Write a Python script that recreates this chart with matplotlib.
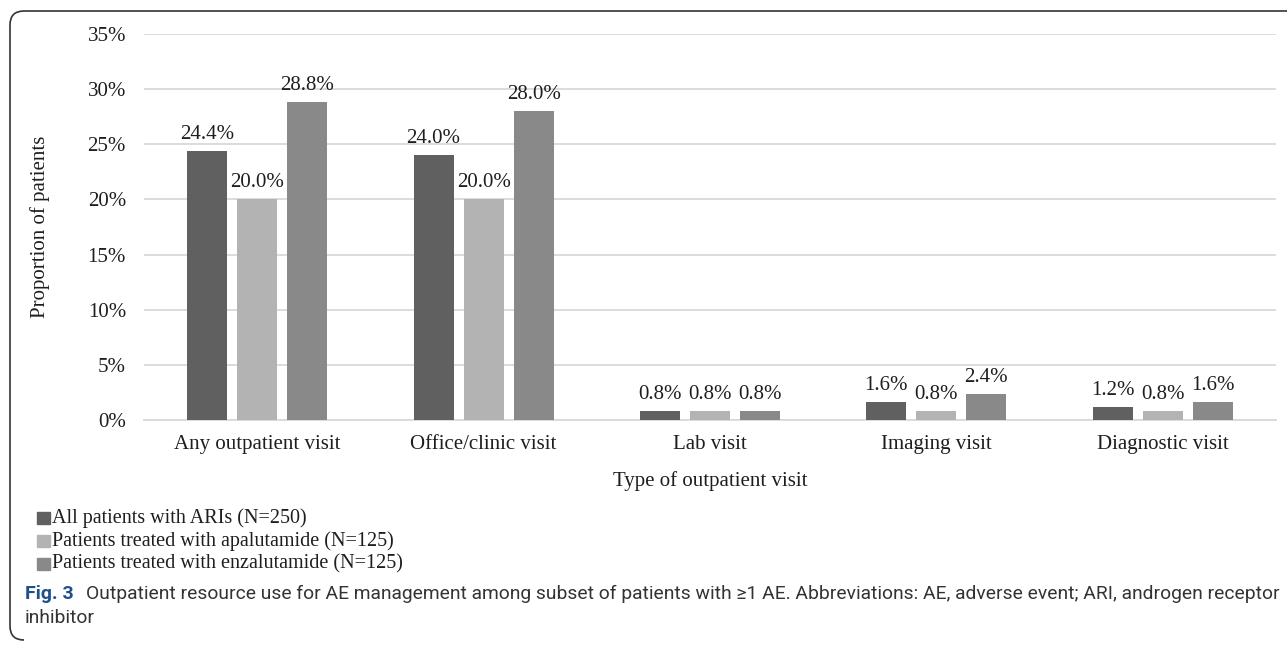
import numpy as np
import matplotlib
matplotlib.use("Agg")
import matplotlib.pyplot as plt
from matplotlib.path import Path
from matplotlib.patches import PathPatch, Rectangle

categories = ["Any outpatient visit", "Office/clinic visit", "Lab visit",
              "Imaging visit", "Diagnostic visit"]
all_ari = [24.4, 24.0, 0.8, 1.6, 1.2]
apalutamide = [20.0, 20.0, 0.8, 0.8, 0.8]
enzalutamide = [28.8, 28.0, 0.8, 2.4, 1.6]
series_names = ["All patients with ARIs (N=250)",
                "Patients treated with apalutamide (N=125)",
                "Patients treated with enzalutamide (N=125)"]
yticks = [0, 5, 10, 15, 20, 25, 30, 35]

colors = ["#606060", "#b3b3b3", "#898989"]
serif = "Liberation Serif"
fs = 15
txt = "#1e1e1e"

W, H = 1287, 651
fig = plt.figure(figsize=(W / 100, H / 100), dpi=100)

# axes box in pixel units -> figure fractions
ax_l, ax_r, ax_t, ax_b = 144, 1276, 34, 420
ax = fig.add_axes([ax_l / W, 1 - ax_b / H, (ax_r - ax_l) / W, (ax_b - ax_t) / H])

ind = np.arange(len(categories))
width = 0.177
offs = [-0.221, 0.0, 0.221]
for k, vals in enumerate([all_ari, apalutamide, enzalutamide]):
    ax.bar(ind + offs[k], vals, width, color=colors[k], zorder=3)
    for x, v in zip(ind + offs[k], vals):
        ax.annotate("%.1f%%" % v, (x, v), xytext=(0, 5), textcoords="offset points",
                    ha="center", va="bottom", family=serif, fontsize=fs, color=txt)

ax.set_xlim(-0.5, len(categories) - 0.5)
ax.set_ylim(0, 35)
ax.set_yticks(yticks)
ax.set_yticklabels(["%d%%" % t for t in yticks], family=serif, fontsize=fs, color=txt)
ax.set_xticks(ind)
ax.set_xticklabels(categories, family=serif, fontsize=fs, color=txt)
ax.tick_params(axis="x", length=0, pad=11)
ax.tick_params(axis="y", length=0, pad=13)
ax.grid(axis="y", color="#d9d9d9", linewidth=1.3, zorder=0)
for s in ["top", "right", "left"]:
    ax.spines[s].set_visible(False)
ax.spines["bottom"].set_color("#d9d9d9")
ax.spines["bottom"].set_linewidth(1.3)

ax.set_ylabel("Proportion of patients", family=serif, fontsize=fs,
              color=txt, labelpad=27)
fig.text(710 / W, 1 - 481 / H, "Type of outpatient visit", family=serif,
         fontsize=fs, color=txt, ha="center", va="center")

# legend rows below the x label
for k, name in enumerate(series_names):
    yc = 518 + 23 * k
    fig.patches.append(Rectangle((37 / W, 1 - (yc + 6) / H), 13 / W, 12 / H,
                                 transform=fig.transFigure, color=colors[k]))
    fig.text(52 / W, 1 - yc / H, name, family=serif, fontsize=14.5,
             color=txt, ha="left", va="center")

# caption
cap_y = 1 - 594 / H
fig.text(25 / W, cap_y, "Fig. 3", family="Roboto", fontweight="bold",
         fontsize=14, color="#1f4f8c", ha="left", va="center")
fig.text(86 / W, cap_y,
         "Outpatient resource use for AE management among subset of patients "
         "with \u22651 AE. Abbreviations: AE, adverse event; ARI, androgen receptor",
         family="Roboto", fontsize=13.9, color="#333333", ha="left", va="center")
fig.text(25 / W, 1 - 618 / H, "inhibitor", family="Roboto", fontsize=13.9,
         color="#333333", ha="left", va="center")

# rounded frame on top and left
r = 14
pts = [(W, 11), (10 + r, 11), (10, 11), (10, 11 + r), (10, 640 - r),
       (10, 640), (10 + r, 640)]
codes = [Path.MOVETO, Path.LINETO, Path.CURVE3, Path.CURVE3, Path.LINETO,
         Path.CURVE3, Path.CURVE3]
pts = [(x / W, 1 - y / H) for x, y in pts]
fig.patches.append(PathPatch(Path(pts, codes), transform=fig.transFigure,
                             fill=False, edgecolor="#333333", linewidth=1.2))

fig.savefig("out.png", dpi=100)
